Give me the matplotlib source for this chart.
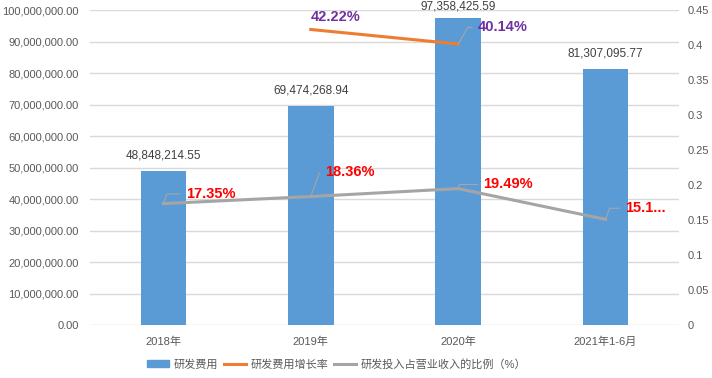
import matplotlib.pyplot as plt
from matplotlib.patches import Patch
from matplotlib.lines import Line2D

plt.rcParams['font.family'] = ['Liberation Sans', 'Noto Sans CJK SC', 'DejaVu Sans']

years = ['2018年', '2019年', '2020年', '2021年1-6月']
rd_cost = [48848214.55, 69474268.94, 97358425.59, 81307095.77]
growth = [None, 0.4222, 0.4014, None]
growth_labels = ['', '42.22%', '40.14%', '']
ratio = [0.1735, 0.1836, 0.1949, 0.151]
ratio_labels = ['17.35%', '18.36%', '19.49%', '15.1...']

blue = '#5B9BD5'
orange = '#ED7D31'
gray = '#A5A5A5'
txt = '#595959'

fig = plt.figure(figsize=(7.12, 3.78), dpi=100)
ax = fig.add_axes([0.126, 0.140, 0.828, 0.8335])
x = list(range(len(years)))
bars = ax.bar(x, rd_cost, width=0.31, color=blue, zorder=2)
# bar value labels (the top one sits a bit closer, like the original)
pads = [7, 7, 4, 7]
for i, b in enumerate(bars):
    ax.annotate(f'{rd_cost[i]:,.2f}', (b.get_x() + b.get_width() / 2, rd_cost[i]),
                xytext=(0, pads[i]), textcoords='offset points', ha='center', va='bottom',
                fontsize=8.5, color='#404040')
ax.set_xlim(-0.5, 3.5)
ax.set_ylim(0, 100000000)
ax.set_yticks([i * 10000000 for i in range(11)])
ax.set_yticklabels([f'{i * 10000000:,.2f}' for i in range(11)])
ax.grid(axis='y', color='#D9D9D9', lw=1, zorder=0)
ax.set_xticks(x)
ax.set_xticklabels(years)
for s in ax.spines.values():
    s.set_visible(False)
ax.tick_params(length=0, labelsize=8, colors=txt)
ax.tick_params(axis='y', pad=8)
ax.tick_params(axis='x', pad=8)

ax2 = ax.twinx()
ax2.set_ylim(0, 0.45)
ax2.set_yticks([i * 0.05 for i in range(10)])
ax2.set_yticklabels(['0', '0.05', '0.1', '0.15', '0.2', '0.25', '0.3', '0.35', '0.4', '0.45'])
for s in ax2.spines.values():
    s.set_visible(False)
ax2.tick_params(length=0, labelsize=8, colors=txt, pad=6)

gx = [i for i in x if growth[i] is not None]
gy = [growth[i] for i in gx]
ax2.plot(gx, gy, color=orange, lw=2.2, zorder=3)
ax2.plot(x, ratio, color=gray, lw=2.2, zorder=3)

# data labels with leader lines (offsets in points)
ratio_off = [(16, 7), (10, 18), (18, 3), (14, 8)]
for i in x:
    ax2.annotate(ratio_labels[i], (x[i], ratio[i]), xytext=ratio_off[i], textcoords='offset points',
                 color='red', fontsize=10.5, fontweight='bold', va='center', ha='left',
                 arrowprops=dict(arrowstyle='-', color=gray, lw=0.8, shrinkA=2, shrinkB=0,
                                 connectionstyle='angle,angleA=180,angleB=70,rad=0'))
ax2.annotate(growth_labels[1], (1, growth[1]), xytext=(0, 9), textcoords='offset points',
             color='#7030A0', fontsize=10.5, fontweight='bold', va='center', ha='left')
ax2.annotate(growth_labels[2], (2, growth[2]), xytext=(14, 12), textcoords='offset points',
             color='#7030A0', fontsize=10.5, fontweight='bold', va='center', ha='left',
             arrowprops=dict(arrowstyle='-', color=gray, lw=0.8, shrinkA=2, shrinkB=0,
                             connectionstyle='angle,angleA=180,angleB=60,rad=0'))

handles = [Patch(color=blue), Line2D([], [], color=orange, lw=2.2), Line2D([], [], color=gray, lw=2.2)]
names = ['研发费用', '研发费用增长率', '研发投入占营业收入的比例（%）']
fig.legend(handles, names, loc='center', bbox_to_anchor=(0.473, 0.037), ncol=3, frameon=False,
           fontsize=8, handlelength=2.0, handletextpad=0.4, columnspacing=0.5, labelcolor=txt)

fig.savefig('out.png', dpi=100)
